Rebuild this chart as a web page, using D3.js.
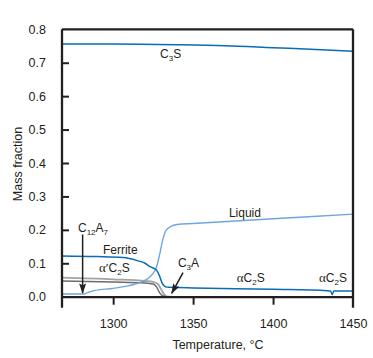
<!DOCTYPE html>
<html><head><meta charset="utf-8">
<script src="https://cdn.jsdelivr.net/npm/d3@7"></script>
<style>
html,body{margin:0;padding:0;background:#fff;}
text{font-family:"Liberation Sans",Arial,sans-serif;fill:#231f20;}
</style></head>
<body><svg id="c" width="373" height="358"></svg>
<script>
// ---- data ----
const xTicks = [1300, 1350, 1400, 1450];
const yTicks = [0.0, 0.1, 0.2, 0.3, 0.4, 0.5, 0.6, 0.7, 0.8];
const c3sT = [1268, 1300, 1340, 1370, 1400, 1430, 1450];
const c3sV = [0.756, 0.756, 0.754, 0.751, 0.745, 0.739, 0.734];
const liqT = [1268, 1282, 1284, 1288, 1300, 1310, 1318, 1322, 1325, 1327, 1329, 1331, 1333, 1336, 1340, 1350, 1400, 1450];
const liqV = [0.008, 0.008, 0.012, 0.018, 0.025, 0.033, 0.045, 0.055, 0.07, 0.087, 0.125, 0.17, 0.198, 0.21, 0.216, 0.219, 0.233, 0.247];
const ferT = [1268, 1290, 1306, 1315, 1320, 1323, 1327, 1329, 1330.5, 1332, 1334];
const ferV = [0.122, 0.12, 0.117, 0.108, 0.1, 0.09, 0.08, 0.062, 0.042, 0.032, 0.028];
const aC2sT = [1334, 1350, 1400, 1434, 1436, 1437, 1438, 1440, 1450];
const aC2sV = [0.028, 0.026, 0.022, 0.018, 0.017, 0.006, 0.017, 0.017, 0.017];
const apC2sT = [1268, 1300, 1320, 1325, 1328, 1330, 1332, 1334, 1337];
const apC2sV = [0.057, 0.052, 0.047, 0.044, 0.038, 0.022, 0.006, 0.0, 0.0];
const c3aT = [1268, 1300, 1320, 1325, 1327, 1329, 1331, 1333];
const c3aV = [0.047, 0.044, 0.041, 0.038, 0.03, 0.012, 0.002, 0.0];

const series = [
  {name:"alpha'C2S", t:apC2sT, v:apC2sV, color:"#a3a3a3", w:1.8},
  {name:"C3A", t:c3aT, v:c3aV, color:"#6b6b6b", w:1.5},
  {name:"Liquid", t:liqT, v:liqV, color:"#6fa7dc", w:1.4},
  {name:"Ferrite", t:ferT, v:ferV, color:"#0a6cb6", w:1.5},
  {name:"alphaC2S", t:aC2sT, v:aC2sV, color:"#0a6cb6", w:1.5},
  {name:"C3S", t:c3sT, v:c3sV, color:"#0a6cb6", w:1.5}
];

// labels: parts [text, kind] kind: n normal, s sub, g greek
const labels = [
  {parts:[["C","n"],["3","s"],["S","n"]], t:1329.3, v:0.714},
  {parts:[["Liquid","n"]], t:1372.4, v:0.239},
  {parts:[["C","n"],["12","s"],["A","n"],["7","s"]], t:1278, v:0.194},
  {parts:[["Ferrite","n"]], t:1293.6, v:0.128},
  {parts:[["α′","g"],["C","n"],["2","s"],["S","n"]], t:1291.1, v:0.075},
  {parts:[["C","n"],["3","s"],["A","n"]], t:1340.5, v:0.089},
  {parts:[["α","g"],["C","n"],["2","s"],["S","n"]], t:1377.3, v:0.045},
  {parts:[["α","g"],["C","n"],["2","s"],["S","n"]], t:1428.7, v:0.045}
];
const arrows = [
  {t0:1280.9, v0:0.186, t1:1280.9, v1:0.011},
  {t0:1343.7, v0:0.072, t1:1336.6, v1:0.010}
];

// ---- chart ----
const svg = d3.select("#c");
const x = d3.scaleLinear().domain([1268, 1450]).range([62, 353]);
const y = d3.scaleLinear().domain([0, 0.8]).range([296.7, 29.3]);
const bottom = 307.7;
const ink = "#231f20";

const line = d3.line().x(d => x(d[0])).y(d => y(d[1])).curve(d3.curveMonotoneX);
series.forEach(s => {
  svg.append("path")
    .attr("d", line(s.t.map((t, i) => [t, s.v[i]])))
    .attr("fill", "none").attr("stroke", s.color).attr("stroke-width", s.w)
    .attr("stroke-linejoin", "round");
});

// frame
svg.append("line").attr("x1", x.range()[0]).attr("x2", x.range()[0]).attr("y1", y(0.8)).attr("y2", bottom)
  .attr("stroke", ink).attr("stroke-width", 2.3);
svg.append("line").attr("x1", x.range()[1]).attr("x2", x.range()[1]).attr("y1", y(0.8)).attr("y2", bottom)
  .attr("stroke", ink).attr("stroke-width", 2.3);
svg.append("line").attr("x1", x.range()[0]).attr("x2", x.range()[1]).attr("y1", y(0.8)).attr("y2", y(0.8))
  .attr("stroke", ink).attr("stroke-width", 2.3);

// x axis at zero
const xAxis = d3.axisBottom(x).tickValues(xTicks).tickSize(8).tickSizeOuter(0).tickPadding(14).tickFormat(d3.format("d"));
const gx = svg.append("g").attr("transform", `translate(0,${y(0)})`).call(xAxis);
gx.select(".domain").attr("stroke", ink).attr("stroke-width", 2.3);
gx.selectAll(".tick line").attr("stroke", ink).attr("stroke-width", 2);
gx.selectAll(".tick").filter(d => d === 1450).select("line").remove();
gx.selectAll(".tick text").attr("font-size", 12.5).attr("fill", ink).attr("font-family", "Liberation Sans, Arial, sans-serif");

// y axis
const yAxis = d3.axisLeft(y).tickValues(yTicks).tickSize(-7).tickSizeOuter(0).tickPadding(16).tickFormat(d3.format(".1f"));
const gy = svg.append("g").attr("transform", `translate(${x.range()[0]},0)`).call(yAxis);
gy.select(".domain").remove();
gy.selectAll(".tick line").attr("stroke", ink).attr("stroke-width", 2);
gy.selectAll(".tick").filter(d => d === 0 || d === 0.8).select("line").remove();
gy.selectAll(".tick text").attr("font-size", 12.5).attr("fill", ink).attr("font-family", "Liberation Sans, Arial, sans-serif");

// axis titles
svg.append("text").attr("x", 218).attr("y", 349).attr("text-anchor", "middle").attr("font-size", 12.5).text("Temperature, °C");
svg.append("text").attr("transform", "translate(22,164) rotate(-90)").attr("text-anchor", "middle").attr("font-size", 12.5).text("Mass fraction");

// labels
labels.forEach(l => {
  const tx = svg.append("text").attr("x", x(l.t)).attr("y", y(l.v)).attr("font-size", 12);
  let shifted = false;
  l.parts.forEach(p => {
    const ts = tx.append("tspan").text(p[0]);
    if (p[1] === "s") { ts.attr("font-size", 8).attr("dy", 3); shifted = true; }
    else {
      if (shifted) { ts.attr("dy", -3); shifted = false; }
      if (p[1] === "g") ts.attr("font-family", "Liberation Serif, Times New Roman, serif").attr("font-size", 13);
    }
  });
});

// arrows
const defs = svg.append("defs");
defs.append("marker").attr("id", "ah").attr("viewBox", "0 0 12 8").attr("refX", 11).attr("refY", 4)
  .attr("markerWidth", 11).attr("markerHeight", 7).attr("markerUnits", "userSpaceOnUse").attr("orient", "auto")
  .append("path").attr("d", "M0,0 L12,4 L0,8 L2,4 Z").attr("fill", ink);
arrows.forEach(a => {
  svg.append("line").attr("x1", x(a.t0)).attr("y1", y(a.v0)).attr("x2", x(a.t1)).attr("y2", y(a.v1))
    .attr("stroke", ink).attr("stroke-width", 1.5).attr("marker-end", "url(#ah)");
});
</script></body></html>
